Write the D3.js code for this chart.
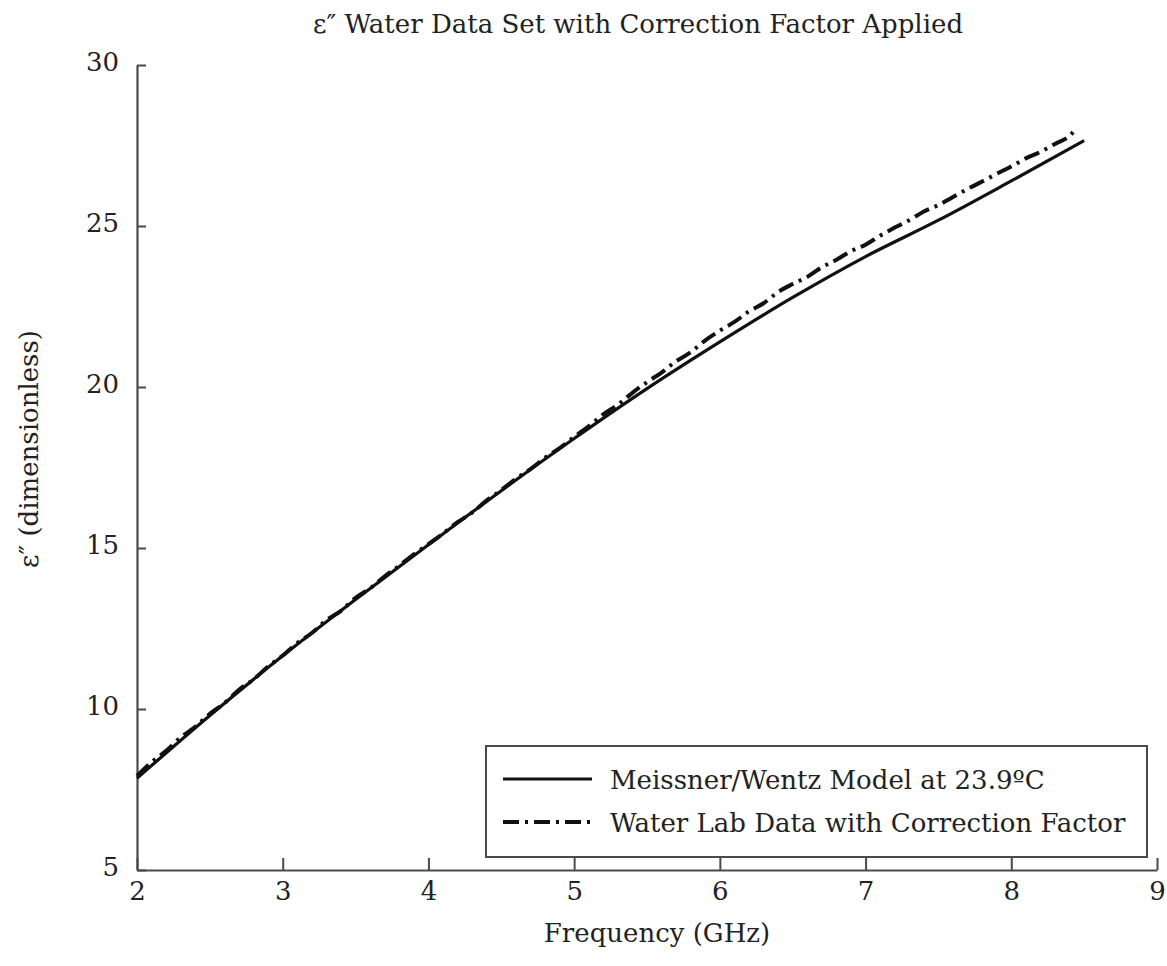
<!DOCTYPE html>
<html>
<head>
<meta charset="utf-8">
<script src="https://cdn.jsdelivr.net/npm/d3@7"></script>
<style>
  html, body { margin: 0; padding: 0; background: #fff; }
  svg text { font-family: "DejaVu Serif", "Liberation Serif", serif; fill: #222; }
</style>
</head>
<body>
<svg id="chart" width="1167" height="966"></svg>
<script>
// ---- data ----
const titleText = "ε″ Water Data Set with Correction Factor Applied";
const xLabel = "Frequency (GHz)";
const yLabel = "ε″ (dimensionless)";
const xTicks = [2, 3, 4, 5, 6, 7, 8, 9];
const yTicks = [5, 10, 15, 20, 25, 30];
const seriesNames = ["Meissner/Wentz Model at 23.9ºC", "Water Lab Data with Correction Factor"];

const modelFreq = [2.0, 2.5, 3.0, 3.5, 4.0, 4.5, 5.0, 5.5, 6.0, 6.5, 7.0, 7.5, 8.0, 8.5];
const modelEps  = [7.85, 9.8, 11.65, 13.4, 15.1, 16.78, 18.4, 19.95, 21.4, 22.78, 24.05, 25.18, 26.4, 27.65];

const labFreq = [2.0, 2.1, 2.2, 2.3, 2.4, 2.5, 2.6, 2.7, 2.8, 2.9,
                 3.0, 3.1, 3.2, 3.3, 3.4, 3.5, 3.6, 3.7, 3.8, 3.9,
                 4.0, 4.1, 4.2, 4.3, 4.4, 4.5, 4.6, 4.7, 4.8, 4.9,
                 5.0, 5.1, 5.2, 5.3, 5.4, 5.5, 5.6, 5.7, 5.8, 5.9,
                 6.0, 6.1, 6.2, 6.3, 6.4, 6.5, 6.6, 6.7, 6.8, 6.9,
                 7.0, 7.1, 7.2, 7.3, 7.4, 7.5, 7.6, 7.7, 7.8, 7.9,
                 8.0, 8.1, 8.2, 8.3, 8.4, 8.45];
const labEps  = [7.92, 8.35, 8.70, 9.12, 9.45, 9.85, 10.18, 10.60, 10.92, 11.32,
                 11.66, 12.05, 12.36, 12.76, 13.05, 13.45, 13.75, 14.12, 14.45, 14.80,
                 15.12, 15.45, 15.80, 16.10, 16.48, 16.80, 17.15, 17.45, 17.80, 18.10,
                 18.45, 18.78, 19.15, 19.45, 19.82, 20.15, 20.45, 20.80, 21.08, 21.45,
                 21.75, 22.02, 22.35, 22.60, 22.95, 23.20, 23.42, 23.72, 23.95, 24.22,
                 24.42, 24.70, 24.95, 25.18, 25.45, 25.65, 25.90, 26.15, 26.38, 26.62,
                 26.85, 27.10, 27.30, 27.55, 27.80, 28.05];

// ---- layout ----
const svg = d3.select("#chart");
const plotL = 137, plotR = 1157, plotT = 65, plotB = 870;
const x = d3.scaleLinear().domain([2, 9]).range([plotL, plotR]);
const y = d3.scaleLinear().domain([5, 30]).range([plotB, plotT]);
const axisColor = "#4a4a4a";
const serif = "'DejaVu Serif', 'Liberation Serif', serif";

// title
svg.append("text").attr("x", 638).attr("y", 33).attr("text-anchor", "middle")
  .style("font-size", "26px").text(titleText);

// x axis (ticks inward)
const gx = svg.append("g").attr("transform", `translate(0,${plotB})`)
  .call(d3.axisBottom(x).tickValues(xTicks).tickFormat(d3.format("d"))
    .tickSizeInner(-12).tickSizeOuter(0).tickPadding(12));
gx.select(".domain").attr("stroke", axisColor).attr("stroke-width", 2.2);
gx.selectAll(".tick line").attr("stroke", axisColor).attr("stroke-width", 2);
gx.selectAll(".tick text").style("font-size", "26px").attr("fill", "#222")
  .style("font-family", serif);

// y axis (ticks inward)
const gy = svg.append("g").attr("transform", `translate(${plotL},0)`)
  .call(d3.axisLeft(y).tickValues(yTicks).tickFormat(d3.format("d"))
    .tickSizeInner(-9).tickSizeOuter(0).tickPadding(18));
gy.select(".domain").attr("stroke", axisColor).attr("stroke-width", 2.2);
gy.selectAll(".tick line").attr("stroke", axisColor).attr("stroke-width", 2);
gy.selectAll(".tick text").style("font-size", "26px").attr("fill", "#222")
  .style("font-family", serif).attr("dy", "0.22em");

// axis titles
svg.append("text").attr("x", 657).attr("y", 942).attr("text-anchor", "middle")
  .style("font-size", "26px").text(xLabel);
svg.append("text").attr("transform", "translate(38,449) rotate(-90)").attr("text-anchor", "middle")
  .style("font-size", "26px").text(yLabel);

// lines
const modelData = modelFreq.map((f, i) => [f, modelEps[i]]);
const labData = labFreq.map((f, i) => [f, labEps[i]]);
const dashPattern = "16,6,3,6";

svg.append("path").datum(labData)
  .attr("d", d3.line().x(d => x(d[0])).y(d => y(d[1])).curve(d3.curveMonotoneX))
  .attr("fill", "none").attr("stroke", "#111").attr("stroke-width", 4)
  .attr("stroke-dasharray", dashPattern);

svg.append("path").datum(modelData)
  .attr("d", d3.line().x(d => x(d[0])).y(d => y(d[1])).curve(d3.curveMonotoneX))
  .attr("fill", "none").attr("stroke", "#111").attr("stroke-width", 3.2);

// legend
const lg = svg.append("g");
lg.append("rect").attr("x", 486).attr("y", 746).attr("width", 661).attr("height", 111)
  .attr("fill", "#fff").attr("stroke", axisColor).attr("stroke-width", 2);
const legendRows = [
  { name: seriesNames[0], dash: null, w: 3.2, yy: 779 },
  { name: seriesNames[1], dash: dashPattern, w: 4, yy: 822 }
];
legendRows.forEach(r => {
  const l = lg.append("line").attr("x1", 503).attr("x2", 592).attr("y1", r.yy).attr("y2", r.yy)
    .attr("stroke", "#111").attr("stroke-width", r.w);
  if (r.dash) l.attr("stroke-dasharray", r.dash);
  lg.append("text").attr("x", 610).attr("y", r.yy + 10).style("font-size", "26px").text(r.name);
});
</script>
</body>
</html>
